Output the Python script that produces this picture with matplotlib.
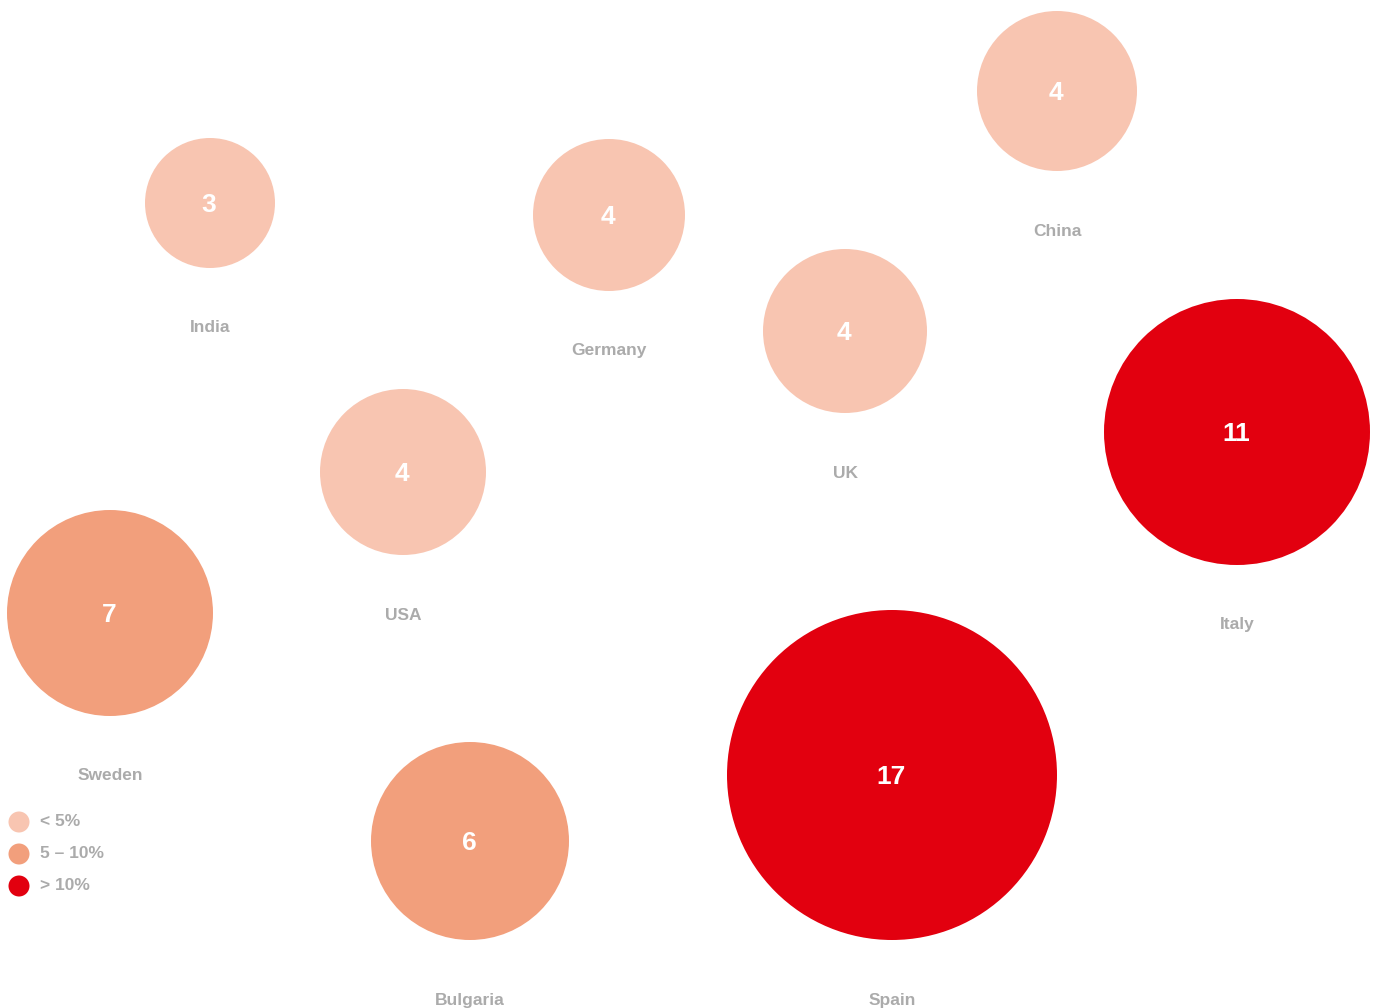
import matplotlib.pyplot as plt
from matplotlib.patches import Circle

plt.rcParams['font.family'] = ['Liberation Sans', 'DejaVu Sans']

countries = ['India', 'Germany', 'China', 'UK', 'Italy', 'USA', 'Sweden', 'Bulgaria', 'Spain']
values = [3, 4, 4, 4, 11, 4, 7, 6, 17]
pos_x = [210, 609, 1057, 845, 1237, 403, 110, 470, 892]
pos_y = [203, 215, 91, 331, 432, 472, 613, 841, 775]
bubble_r = [65, 76, 80, 82, 133, 83, 103, 99, 165]
groups = ['low', 'low', 'low', 'low', 'high', 'low', 'mid', 'mid', 'high']

legend_keys = ['low', 'mid', 'high']
legend_labels = ['< 5%', '5 \u2013 10%', '> 10%']
colors = {'low': '#F8C5B1', 'mid': '#F29F7C', 'high': '#E2000F'}
grey = '#ABABAB'

fig = plt.figure(figsize=(13.78, 10.08), dpi=100)
ax = fig.add_axes([0, 0, 1, 1])
ax.set_xlim(0, 1378)
ax.set_ylim(1008, 0)
ax.set_aspect('equal')
ax.axis('off')

for name, v, x, y, r, g in zip(countries, values, pos_x, pos_y, bubble_r, groups):
    ax.add_patch(Circle((x, y), r, color=colors[g], lw=0))
    ax.text(x - 1, y + 2, str(v), ha='center', va='center', color='white',
            fontsize=19, fontweight='bold')
    ax.text(x, y + r + 60, name, ha='center', va='center', color=grey,
            fontsize=12.5, fontweight='bold')

# legend
for i, (k, lab) in enumerate(zip(legend_keys, legend_labels)):
    ly = 822 + i * 32
    ax.add_patch(Circle((19, ly), 10.5, color=colors[k], lw=0))
    ax.text(40, ly - 1, lab, ha='left', va='center', color=grey,
            fontsize=12.5, fontweight='bold')

fig.savefig('out.png', dpi=100)
